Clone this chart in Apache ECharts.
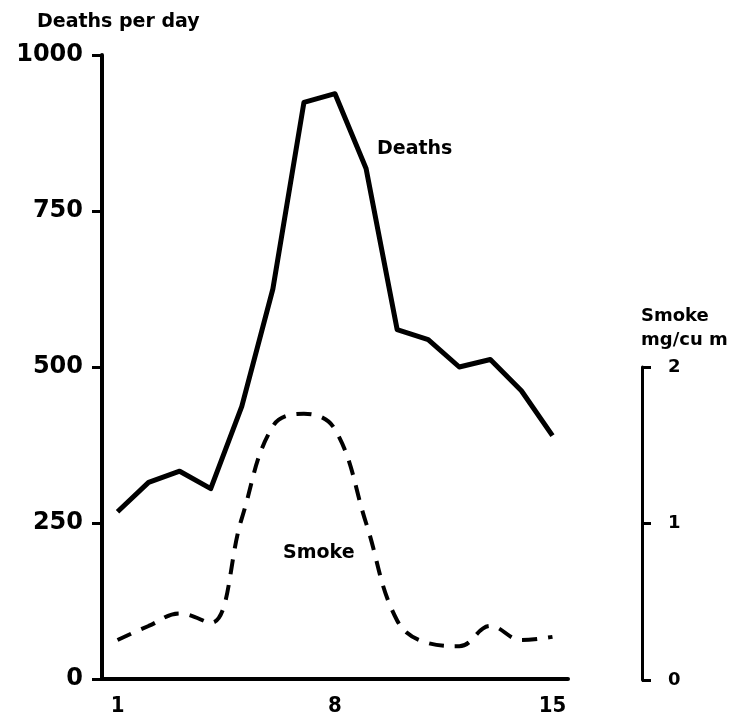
<!DOCTYPE html>
<html>
<head>
<meta charset="utf-8">
<script src="https://cdn.jsdelivr.net/npm/echarts@6/dist/echarts.min.js"></script>
<style>
html,body{margin:0;padding:0;background:#fff;}
#chart{width:736px;height:717px;}
</style>
</head>
<body>
<div id="chart"></div>
<script>
const days = ['1','2','3','4','5','6','7','8','9','10','11','12','13','14','15'];
const deaths = [268, 315, 333, 305, 437, 625, 924, 938, 818, 560, 544, 500, 512, 462, 390];
const smoke = [0.25, 0.34, 0.42, 0.36, 1.03, 1.62, 1.70, 1.60, 1.0, 0.375, 0.23, 0.21, 0.34, 0.25, 0.27];
const deathTicks = [0, 250, 500, 750, 1000];
const smokeTicks = [0, 1, 2];

const FONT = '"DejaVu Sans", Arial, sans-serif';
const NARROW = '"Liberation Sans Narrow", "DejaVu Sans Condensed", "Liberation Sans", sans-serif';

const chart = echarts.init(document.getElementById('chart'), null, {renderer: 'canvas'});
chart.setOption({
  animation: false,
  backgroundColor: '#fff',
  title: [
    {text: 'Deaths per day', left: 32, top: 8,
     textStyle: {fontFamily: FONT, fontWeight: 'bold', fontSize: 19, color: '#000'}},
    {text: 'Smoke\nmg/cu m', left: 636, top: 299,
     textStyle: {fontFamily: FONT, fontWeight: 'bold', fontSize: 18, lineHeight: 24, color: '#000'}}
  ],
  graphic: [
    {type: 'text', left: 377, top: 140,
     style: {text: 'Deaths', font: 'bold 19px "DejaVu Sans", Arial, sans-serif', fill: '#000'}},
    {type: 'text', left: 283, top: 544,
     style: {text: 'Smoke', font: 'bold 19px "DejaVu Sans", Arial, sans-serif', fill: '#000'}}
  ],
  grid: [
    {left: 102, right: 168, top: 55, bottom: 37},
    {left: 642, right: 93, top: 367, bottom: 37}
  ],
  xAxis: [
    {type: 'category', data: days, boundaryGap: true,
     axisLine: {lineStyle: {color: '#000', width: 4}},
     axisTick: {interval: 0, length: 11, lineStyle: {color: '#000', width: 3}},
     axisLabel: {interval: 6, margin: 16, color: '#000', fontFamily: NARROW, fontWeight: 'bold', fontSize: 22},
     splitLine: {show: false}},
    {gridIndex: 1, type: 'value', show: false, min: 0, max: 1}
  ],
  yAxis: [
    {type: 'value', min: deathTicks[0], max: deathTicks[deathTicks.length - 1], interval: 250,
     axisLine: {show: true, lineStyle: {color: '#000', width: 4}},
     axisTick: {show: true, length: 10, lineStyle: {color: '#000', width: 3}},
     axisLabel: {margin: 19, color: '#000', fontFamily: FONT, fontWeight: 'bold', fontSize: 24,
                 formatter: function (v) { return String(v); }},
     splitLine: {show: false}},
    {type: 'value', min: 0, max: 4, show: false},
    {gridIndex: 1, type: 'value', position: 'right', min: smokeTicks[0], max: smokeTicks[smokeTicks.length - 1], interval: 1,
     axisLine: {show: true, lineStyle: {color: '#000', width: 3}},
     axisTick: {show: true, length: 9, lineStyle: {color: '#000', width: 3}},
     axisLabel: {margin: 25, color: '#000', fontFamily: FONT, fontWeight: 'bold', fontSize: 18,
                 formatter: function (v) { return String(v); }},
     splitLine: {show: false}}
  ],
  series: [
    {name: 'Deaths', type: 'line', xAxisIndex: 0, yAxisIndex: 0, data: deaths,
     symbol: 'none', lineStyle: {color: '#000', width: 5, join: 'round'}},
    {name: 'Smoke', type: 'line', xAxisIndex: 0, yAxisIndex: 1, data: smoke,
     symbol: 'none', smooth: 0.4, lineStyle: {color: '#000', width: 4, type: [15, 11]}}
  ]
});
</script>
</body>
</html>
